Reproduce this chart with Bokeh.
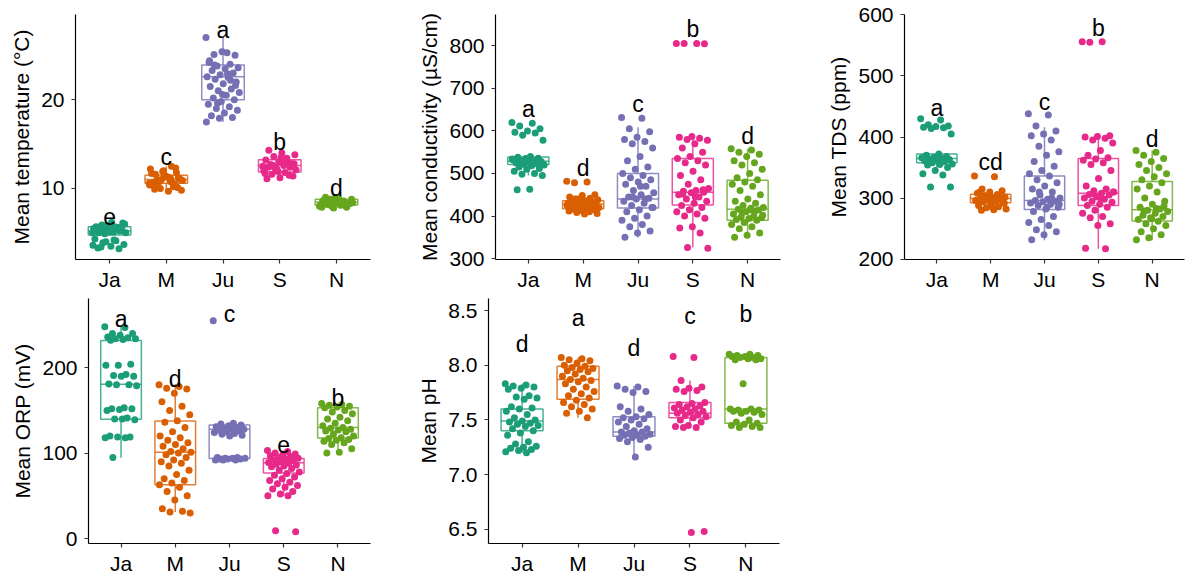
from bokeh.plotting import figure
from bokeh.layouts import column, row
from bokeh.models import FixedTicker, Range1d, PrintfTickFormatter
from bokeh.embed import file_html
from bokeh.resources import INLINE
from bokeh.core.properties import value

months = ["Ja", "M", "Ju", "S", "N"]
colors = ["#1B9E77", "#D95F02", "#7570B3", "#E7298A", "#66A61E"]

# ---------------- Temperature ----------------
temp_ja = [5.0, 5.1, 5.2, 5.3, 5.4, 5.5, 5.6, 5.8, 6.0, 6.2, 5.0, 5.2, 5.4, 5.5, 5.7, 5.9, 6.1,
           5.1, 5.3, 5.6, 4.9, 5.0, 5.2, 5.4, 5.6, 5.8, 4.3, 4.1, 3.9, 3.7, 3.5, 3.3, 3.2, 4.0,
           3.6, 4.2, 3.4, 5.3, 5.5, 5.7]
temp_m = [10.6, 10.8, 11.0, 11.2, 11.4, 10.4, 10.2, 10.0, 9.8, 9.7, 11.6, 11.8, 12.0, 12.2, 12.5,
          10.9, 11.1, 11.3, 10.7, 10.5, 11.0, 10.9, 11.2, 10.3, 10.1, 11.5, 11.7, 10.6, 10.8, 11.0,
          11.3, 9.9, 12.3, 11.9, 10.4, 11.1]
temp_ju = [27.0, 25.3, 25.1, 25.0, 25.4, 24.2, 24.0, 23.8, 23.6, 23.5, 23.3, 23.0, 22.8, 22.6, 22.5,
           22.3, 22.0, 21.8, 21.5, 21.2, 21.0, 20.8, 20.5, 20.2, 20.0, 19.8, 19.5, 19.2, 19.0, 18.8,
           18.5, 18.2, 18.0, 17.9, 17.5, 22.9, 23.9, 21.6, 20.6, 24.4, 22.2, 19.6]
temp_s = [12.5, 12.6, 12.7, 12.8, 13.0, 13.2, 13.4, 13.6, 13.8, 14.0, 14.3, 12.4, 12.2, 12.0, 11.8,
          11.6, 11.4, 11.2, 11.1, 12.9, 12.3, 12.1, 13.1, 12.5, 12.7, 11.9, 11.7, 13.3, 12.6, 12.8,
          13.5, 12.4, 11.5, 12.0]
temp_n = [8.0, 8.1, 8.2, 8.3, 8.4, 8.5, 8.6, 8.7, 8.8, 8.9, 9.0, 7.9, 7.8, 8.2, 8.4, 8.6, 8.3, 8.5,
          8.7, 8.1, 8.0, 8.4, 8.5, 8.6, 8.2, 8.9, 7.9, 8.3, 8.8, 8.4]
temp_q1 = [4.75, 10.6, 20.0, 11.85, 8.15]
temp_med = [5.2, 11.0, 22.6, 12.6, 8.45]
temp_q3 = [5.7, 11.5, 23.9, 13.25, 8.8]
temp_lo = [4.9, 9.7, 17.5, 11.1, 7.8]
temp_hi = [6.2, 12.5, 27.0, 14.3, 9.0]
temp_letters = ["e", "c", "a", "b", "d"]
temp_letter_y = [6.85, 13.5, 27.85, 15.26, 10.1]

# ---------------- Conductivity ----------------
cond_ja = [620, 618, 612, 605, 600, 597, 595, 590, 578, 540, 538, 536, 535, 532, 530, 530, 528, 527,
           525, 524, 522, 520, 518, 515, 512, 510, 505, 500, 498, 495, 463, 462, 530, 526, 534, 521]
cond_m = [482, 480, 478, 450, 448, 445, 442, 440, 438, 436, 435, 433, 432, 430, 430, 428, 427, 426,
          425, 423, 422, 420, 418, 416, 415, 413, 412, 410, 408, 406, 405, 430, 428, 435, 425, 420,
          440, 418]
cond_ju = [632, 630, 605, 598, 585, 580, 575, 570, 560, 540, 530, 515, 510, 500, 495, 490, 485, 480,
           475, 470, 460, 455, 450, 445, 442, 440, 435, 430, 425, 420, 415, 410, 400, 395, 390, 380,
           375, 365, 360, 350, 440, 445, 420, 470]
cond_s = [806, 806, 806, 805, 587, 585, 583, 580, 578, 570, 560, 550, 540, 535, 530, 525, 520, 505,
          495, 485, 475, 465, 460, 458, 456, 455, 450, 445, 440, 435, 430, 425, 420, 415, 410, 405,
          400, 395, 375, 372, 360, 326, 324, 445, 452, 462]
cond_n = [558, 555, 550, 545, 540, 530, 525, 520, 510, 500, 490, 485, 480, 475, 470, 460, 450, 440,
          435, 430, 425, 420, 418, 416, 414, 410, 405, 400, 398, 396, 394, 392, 390, 385, 380, 375,
          370, 360, 355, 350, 412, 408, 402, 415]
cond_q1 = [521, 417, 419, 426, 390]
cond_med = [529, 428, 440, 456, 416]
cond_q3 = [539, 436, 500, 535, 484]
cond_lo = [495, 405, 349, 326, 349]
cond_hi = [540, 450, 609, 587, 558]
cond_letters = ["a", "d", "c", "b", "d"]
cond_letter_y = [651, 513, 663, 841, 589]

# ---------------- TDS ----------------
tds_ja = [430, 428, 420, 418, 417, 416, 415, 414, 405, 372, 370, 368, 367, 366, 365, 364, 363, 362,
          361, 360, 358, 356, 355, 354, 350, 345, 340, 338, 318, 318, 366, 369, 362]
tds_m = [336, 335, 315, 312, 310, 308, 306, 304, 302, 300, 299, 298, 297, 296, 295, 294, 292, 290,
         288, 286, 284, 282, 281, 280, 300, 302, 296, 298, 304, 292, 286, 310]
tds_ju = [438, 436, 418, 410, 405, 402, 395, 385, 376, 370, 360, 352, 345, 340, 336, 330, 325, 320,
          315, 310, 305, 300, 298, 296, 295, 294, 292, 290, 288, 285, 282, 278, 270, 265, 260, 255,
          248, 245, 240, 232, 300, 310, 290, 285]
tds_s = [556, 556, 555, 402, 401, 400, 398, 395, 390, 378, 370, 366, 364, 362, 358, 355, 345, 332,
         320, 315, 312, 310, 308, 306, 305, 302, 300, 298, 295, 293, 290, 288, 285, 280, 275, 270,
         268, 258, 255, 218, 217, 307, 310, 300]
tds_n = [378, 375, 370, 365, 360, 355, 350, 345, 340, 335, 330, 325, 320, 315, 310, 300, 295, 290,
         285, 282, 280, 278, 275, 272, 270, 268, 265, 262, 258, 255, 250, 245, 240, 235, 232, 283,
         279, 287, 266]
tds_q1 = [358, 292.5, 281.5, 288, 262.5]
tds_med = [365, 299.5, 296, 308, 281]
tds_q3 = [372, 306.5, 336, 365, 327]
tds_lo = [345, 280, 231, 217, 231]
tds_hi = [372, 315, 416, 401, 378]
tds_letters = ["a", "cd", "c", "b", "d"]
tds_letter_y = [448, 359, 458, 579, 397]

# ---------------- ORP ----------------
orp_ja = [248, 247, 240, 240, 238, 236, 235, 234, 234, 233, 232, 204, 203, 203, 192, 191, 190, 190,
          181, 180, 180, 179, 153, 152, 152, 151, 150, 141, 140, 139, 140, 120, 119, 119, 118, 118, 95]
orp_m = [180, 178, 176, 175, 170, 160, 155, 150, 145, 138, 136, 130, 125, 120, 118, 115, 112, 110,
         108, 105, 102, 101, 100, 98, 95, 92, 90, 88, 85, 80, 75, 70, 68, 65, 63, 60, 55, 50, 45, 35,
         32, 31, 30]
orp_ju = [255, 135, 134, 133, 132, 131, 130, 129, 128, 128, 127, 126, 125, 124, 123, 122, 121, 120,
          95, 95, 94, 94, 94, 93, 93, 93, 92, 92, 92]
orp_s = [103, 102, 100, 99, 98, 97, 96, 95, 94, 93, 92, 91, 90, 89, 88, 87, 86, 85, 84, 82, 80, 78,
         76, 74, 72, 70, 68, 66, 64, 62, 60, 58, 55, 52, 50, 50, 9, 8]
orp_n = [158, 157, 156, 155, 154, 153, 150, 148, 146, 142, 140, 138, 135, 132, 130, 129, 128, 127,
         126, 125, 122, 120, 118, 117, 116, 115, 114, 112, 110, 105, 101, 100]
orp_q1 = [139.7, 63, 93.6, 76.6, 117.6]
orp_med = [180.7, 101, 128, 88.6, 130]
orp_q3 = [231.7, 137.7, 133, 93.6, 153]
orp_lo = [94.6, 31, 92, 50, 100.5]
orp_hi = [249, 181, 135, 103, 158]
orp_letters = ["a", "d", "c", "e", "b"]
orp_letter_y = [257, 187, 263, 110, 165]

# ---------------- pH ----------------
ph_ja = [7.83, 7.82, 7.81, 7.80, 7.79, 7.78, 7.72, 7.71, 7.70, 7.69, 7.62, 7.61, 7.60, 7.58, 7.55,
         7.52, 7.50, 7.49, 7.48, 7.47, 7.46, 7.45, 7.44, 7.42, 7.40, 7.38, 7.36, 7.30, 7.28, 7.26,
         7.25, 7.24, 7.23, 7.22, 7.21, 7.20]
ph_m = [8.07, 8.06, 8.05, 8.04, 8.02, 8.00, 7.99, 7.98, 7.97, 7.96, 7.95, 7.94, 7.92, 7.90, 7.88,
        7.87, 7.86, 7.85, 7.83, 7.80, 7.78, 7.76, 7.74, 7.72, 7.70, 7.68, 7.66, 7.64, 7.62, 7.60,
        7.58, 7.56, 7.52]
ph_ju = [7.81, 7.80, 7.78, 7.76, 7.75, 7.62, 7.60, 7.58, 7.55, 7.53, 7.52, 7.51, 7.50, 7.48, 7.46,
         7.44, 7.42, 7.40, 7.39, 7.39, 7.38, 7.37, 7.36, 7.36, 7.35, 7.34, 7.33, 7.32, 7.30, 7.25, 7.16]
ph_s = [8.08, 8.07, 7.86, 7.80, 7.79, 7.78, 7.77, 7.76, 7.66, 7.65, 7.64, 7.63, 7.62, 7.61, 7.60,
        7.59, 7.58, 7.57, 7.56, 7.55, 7.54, 7.53, 7.52, 7.50, 7.48, 7.45, 7.44, 7.43, 7.43, 6.48, 6.47]
ph_n = [8.10, 8.10, 8.09, 8.09, 8.08, 8.08, 8.07, 8.07, 8.06, 8.06, 8.05, 8.05, 7.83, 7.60, 7.60,
        7.59, 7.59, 7.58, 7.58, 7.57, 7.56, 7.55, 7.50, 7.48, 7.47, 7.46, 7.45, 7.44, 7.43, 7.43]
ph_q1 = [7.40, 7.69, 7.35, 7.52, 7.47]
ph_med = [7.49, 7.87, 7.39, 7.56, 7.60]
ph_q3 = [7.60, 7.99, 7.53, 7.66, 8.07]
ph_lo = [7.20, 7.52, 7.16, 7.43, 7.43]
ph_hi = [7.83, 8.07, 7.81, 7.86, 8.10]
ph_letters = ["d", "a", "d", "c", "b"]
ph_letter_y = [8.19, 8.43, 8.16, 8.45, 8.47]

FONT = "Liberation Sans"


def jit(i):
    return ((i * 0.61803398875) % 1.0 - 0.5) * 0.6


def panel(groups, q1, med, q3, lo, hi, letters, letter_y, ylabel, yr, yticks,
          width, height, left, right, top, bottom, fmt=None):
    p = figure(width=width, height=height, x_range=Range1d(0.4, 5.6), y_range=Range1d(*yr),
               output_backend="svg", toolbar_location=None,
               min_border_left=left, min_border_right=right,
               min_border_top=top, min_border_bottom=bottom)
    p.outline_line_color = None
    p.xgrid.visible = False
    p.ygrid.visible = False
    pos = [1, 2, 3, 4, 5]
    for k, vals in enumerate(groups):
        xs = [pos[k] + jit(i) for i in range(len(vals))]
        p.scatter(xs, vals, size=7, color=colors[k], line_color=None)
    hw = 0.375
    p.quad(left=[x - hw for x in pos], right=[x + hw for x in pos], bottom=q1, top=q3,
           fill_color=None, line_color=colors, line_alpha=0.8, line_width=1.5)
    p.segment(x0=pos, y0=q3, x1=pos, y1=hi, line_color=colors, line_alpha=0.8, line_width=1.5)
    p.segment(x0=pos, y0=lo, x1=pos, y1=q1, line_color=colors, line_alpha=0.8, line_width=1.5)
    p.segment(x0=[x - hw for x in pos], y0=med, x1=[x + hw for x in pos], y1=med,
              line_color=colors, line_alpha=0.8, line_width=1.5)
    p.text(x=pos, y=letter_y, text=letters, text_font=value(FONT), text_font_size="23px",
           text_align="center", text_baseline="middle", text_color="black")
    p.xaxis.ticker = FixedTicker(ticks=pos)
    p.xaxis.major_label_overrides = {i + 1: m for i, m in enumerate(months)}
    p.yaxis.ticker = FixedTicker(ticks=yticks)
    if fmt:
        p.yaxis.formatter = PrintfTickFormatter(format=fmt)
    p.yaxis.axis_label = ylabel
    for ax in (p.xaxis, p.yaxis):
        ax.axis_line_color = "black"
        ax.axis_line_width = 1.2
        ax.major_tick_line_color = "#333333"
        ax.major_tick_line_width = 1.2
        ax.major_tick_out = 4
        ax.major_tick_in = 0
        ax.minor_tick_out = 0
        ax.minor_tick_in = 0
        ax.major_label_text_font = FONT
        ax.major_label_text_font_size = "21px"
        ax.major_label_text_color = "black"
        ax.axis_label_text_font = FONT
        ax.axis_label_text_font_size = "21px"
        ax.axis_label_text_font_style = "normal"
        ax.axis_label_text_color = "black"
    p.xaxis.major_label_standoff = 4
    p.yaxis.major_label_standoff = 7
    p.yaxis.axis_label_standoff = 5
    return p


# row 1: top 14, frame 248, bottom 31 -> 293 ; row 2: top 5, frame 248, bottom 31 -> 284
p1 = panel([temp_ja, temp_m, temp_ju, temp_s, temp_n], temp_q1, temp_med, temp_q3, temp_lo, temp_hi,
           temp_letters, temp_letter_y, "Mean temperature (°C)", (2.0, 29.6), [10, 20],
           412, 293, 75, 42, 14, 31)
p2 = panel([cond_ja, cond_m, cond_ju, cond_s, cond_n], cond_q1, cond_med, cond_q3, cond_lo, cond_hi,
           cond_letters, cond_letter_y, "Mean conductivity (µS/cm)", (297.7, 874),
           [300, 400, 500, 600, 700, 800], 403, 293, 83, 35, 14, 31)
p3 = panel([tds_ja, tds_m, tds_ju, tds_s, tds_n], tds_q1, tds_med, tds_q3, tds_lo, tds_hi,
           tds_letters, tds_letter_y, "Mean TDS (ppm)", (199.5, 600.5),
           [200, 300, 400, 500, 600], 371, 293, 89, 2, 14, 31)
p4 = panel([orp_ja, orp_m, orp_ju, orp_s, orp_n], orp_q1, orp_med, orp_q3, orp_lo, orp_hi,
           orp_letters, orp_letter_y, "Mean ORP (mV)", (-5.8, 281), [0, 100, 200],
           412, 284, 88, 42, 5, 31)
p5 = panel([ph_ja, ph_m, ph_ju, ph_s, ph_n], ph_q1, ph_med, ph_q3, ph_lo, ph_hi,
           ph_letters, ph_letter_y, "Mean pH", (6.37, 8.61), [6.5, 7.0, 7.5, 8.0, 8.5],
           377, 284, 76, 10, 5, 31, fmt="%.1f")

layout = column(row(p1, p2, p3), row(p4, p5))
open("out.html", "w").write(file_html(layout, INLINE))
